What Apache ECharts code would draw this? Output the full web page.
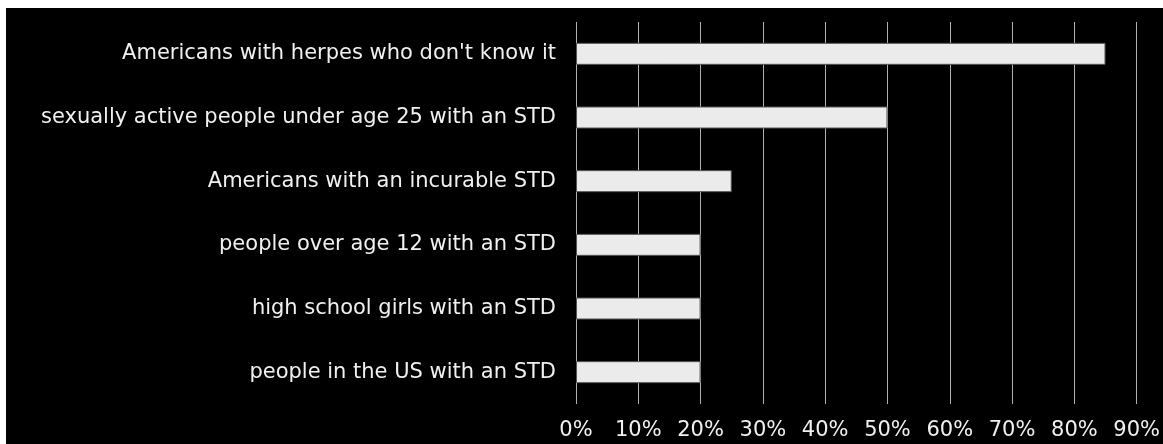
<!DOCTYPE html>
<html>
<head>
<meta charset="utf-8">
<script src="https://cdn.jsdelivr.net/npm/echarts@6/dist/echarts.min.js"></script>
<style>
html,body{margin:0;padding:0;background:#ffffff;}
#chart{position:absolute;left:6px;top:8px;width:1157px;height:436px;background:#000000;}
</style>
</head>
<body>
<div id="chart"></div>
<script>
const categories = [
  "Americans with herpes who don't know it",
  "sexually active people under age 25 with an STD",
  "Americans with an incurable STD",
  "people over age 12 with an STD",
  "high school girls with an STD",
  "people in the US with an STD"
];
const values = [85, 50, 25, 20, 20, 20];
const axisMin = 0;
const axisMax = 90;
const axisStep = 10;

const chart = echarts.init(document.getElementById('chart'), null, {renderer: 'canvas'});
chart.setOption({
  backgroundColor: '#000000',
  animation: false,
  grid: {left: 570, right: 26, top: 14, bottom: 40, containLabel: false},
  xAxis: {
    type: 'value',
    min: axisMin, max: axisMax, interval: axisStep,
    axisLine: {show: false},
    axisTick: {show: false},
    axisLabel: {color: '#f0f0f0', fontFamily: 'DejaVu Sans', fontSize: 21, margin: 16, formatter: '{value}%'},
    splitLine: {show: true, lineStyle: {color: '#b0b0b0', width: 1}}
  },
  yAxis: {
    type: 'category',
    data: categories,
    inverse: true,
    axisLine: {show: false},
    axisTick: {show: false},
    axisLabel: {color: '#f0f0f0', fontFamily: 'DejaVu Sans', fontSize: 21, margin: 20}
  },
  series: [{
    type: 'bar',
    data: values,
    barWidth: 22,
    itemStyle: {color: '#ebebeb', borderColor: '#555555', borderWidth: 1},
    z: 3
  }]
});
</script>
</body>
</html>
